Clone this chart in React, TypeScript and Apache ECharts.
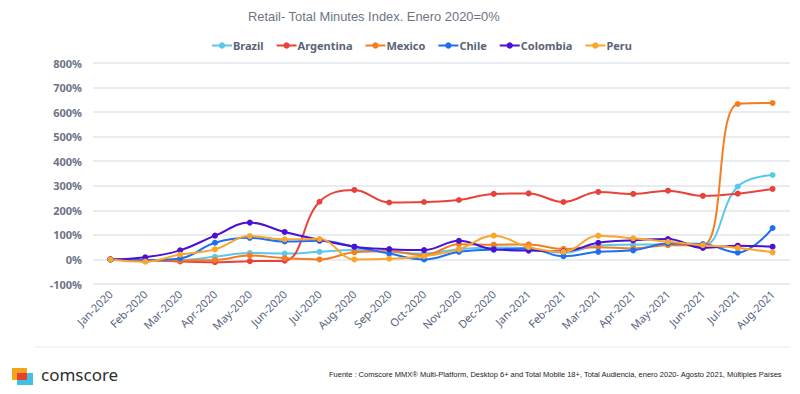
import React, { useEffect, useRef } from "react";
import * as echarts from "echarts";

const months = [
  "Jan-2020", "Feb-2020", "Mar-2020", "Apr-2020", "May-2020", "Jun-2020",
  "Jul-2020", "Aug-2020", "Sep-2020", "Oct-2020", "Nov-2020", "Dec-2020",
  "Jan-2021", "Feb-2021", "Mar-2021", "Apr-2021", "May-2021", "Jun-2021",
  "Jul-2021", "Aug-2021",
];

const brazil = [0, -5, -3, 11, 26, 24, 31, 38, 31, 24, 42, 49, 45, 27, 57, 60, 62, 55, 297, 344];
const argentina = [0, -3, -8, -11, -7, -5, 235, 283, 232, 234, 242, 267, 269, 234, 275, 267, 280, 259, 268, 287];
const mexico = [0, -5, -4, -2, 16, 5, 0, 29, 33, 17, 62, 60, 61, 43, 50, 45, 58, 58, 633, 637];
const chile = [0, -3, 4, 68, 88, 73, 76, 52, 24, 0, 31, 40, 45, 13, 31, 37, 65, 63, 28, 128];
const colombia = [0, 9, 37, 97, 150, 112, 80, 52, 42, 38, 76, 41, 36, 33, 68, 78, 83, 47, 56, 52];
const peru = [0, -9, 20, 41, 95, 82, 83, 0, 3, 13, 41, 97, 50, 31, 97, 86, 72, 58, 47, 29];

const yTicks = { min: -100, max: 800, interval: 100 };

const seriesDefs = [
  { name: "Brazil", data: brazil, color: "#5bc8ea" },
  { name: "Argentina", data: argentina, color: "#e8433a" },
  { name: "Mexico", data: mexico, color: "#f47d22" },
  { name: "Chile", data: chile, color: "#1c6ef5" },
  { name: "Colombia", data: colombia, color: "#4a10d4" },
  { name: "Peru", data: peru, color: "#f9a62a" },
];

export default function App() {
  const ref = useRef<HTMLDivElement>(null);

  useEffect(() => {
    if (!ref.current) return;
    const chart = echarts.init(ref.current, undefined, { renderer: "svg" });
    chart.setOption({
      animation: false,
      backgroundColor: "#ffffff",
      grid: { left: 93, right: 10, top: 63, bottom: 110 },
      legend: {
        left: 206,
        top: 35,
        itemWidth: 20,
        itemHeight: 8,
        itemGap: 12,
        textStyle: {
          color: "#5a6375",
          fontSize: 11,
          fontWeight: "bold",
          fontFamily: "Noto Sans",
          padding: [0, 0, 0, -4],
        },
        data: seriesDefs.map((s) => s.name),
      },
      xAxis: {
        type: "category",
        data: months,
        boundaryGap: true,
        axisLine: { show: false },
        axisTick: { show: false },
        axisLabel: {
          rotate: 45,
          interval: 0,
          margin: 8,
          color: "#56637c",
          fontSize: 11,
          fontFamily: "Noto Sans",
        },
      },
      yAxis: {
        type: "value",
        min: yTicks.min,
        max: yTicks.max,
        interval: yTicks.interval,
        axisLine: { show: false },
        axisTick: { show: false },
        axisLabel: {
          formatter: "{value}%",
          color: "#6b7386",
          fontSize: 11,
          fontWeight: "bold",
          fontFamily: "Noto Sans",
          margin: 11,
        },
        splitLine: { lineStyle: { color: "#e1e4ea", width: 1.5 } },
      },
      series: seriesDefs.map((s) => ({
        name: s.name,
        type: "line",
        data: s.data,
        smooth: 0.4,
        symbol: "circle",
        symbolSize: 6,
        itemStyle: { color: s.color },
        lineStyle: { color: s.color, width: 2 },
      })),
      graphic: [
        {
          type: "text",
          left: 248,
          top: 10,
          style: {
            text: "Retail- Total Minutes Index. Enero 2020=0%",
            fill: "#6b7585",
            fontSize: 12.9,
            fontFamily: "Liberation Sans",
          },
        },
        {
          type: "line",
          shape: { x1: 35, y1: 347, x2: 790, y2: 347 },
          style: { stroke: "#e8eaee", lineWidth: 1 },
        },
        {
          type: "rect",
          shape: { x: 12, y: 368, width: 15, height: 12 },
          style: { fill: "#f7a21b" },
        },
        {
          type: "rect",
          shape: { x: 17, y: 373, width: 16, height: 12 },
          style: { fill: "#3fc1e6" },
        },
        {
          type: "rect",
          shape: { x: 17, y: 373, width: 10, height: 7 },
          style: { fill: "#e6402f" },
        },
        {
          type: "text",
          left: 41,
          top: 366,
          style: {
            text: "comscore",
            fill: "#2e2e2e",
            fontSize: 17,
            fontFamily: "Noto Sans",
          },
        },
        {
          type: "text",
          left: 329,
          top: 370,
          style: {
            text: "Fuente : Comscore MMX\u00ae Multi-Platform, Desktop 6+ and Total Mobile 18+, Total Audiencia, enero 2020- Agosto 2021, M\u00faltiples Pa\u00edses",
            fill: "#222222",
            fontSize: 7.5,
            fontFamily: "Liberation Sans",
          },
        },
      ],
    });
    return () => chart.dispose();
  }, []);

  return (
    <div
      ref={ref}
      style={{ position: "absolute", left: 0, top: 0, width: 800, height: 394 }}
    />
  );
}
